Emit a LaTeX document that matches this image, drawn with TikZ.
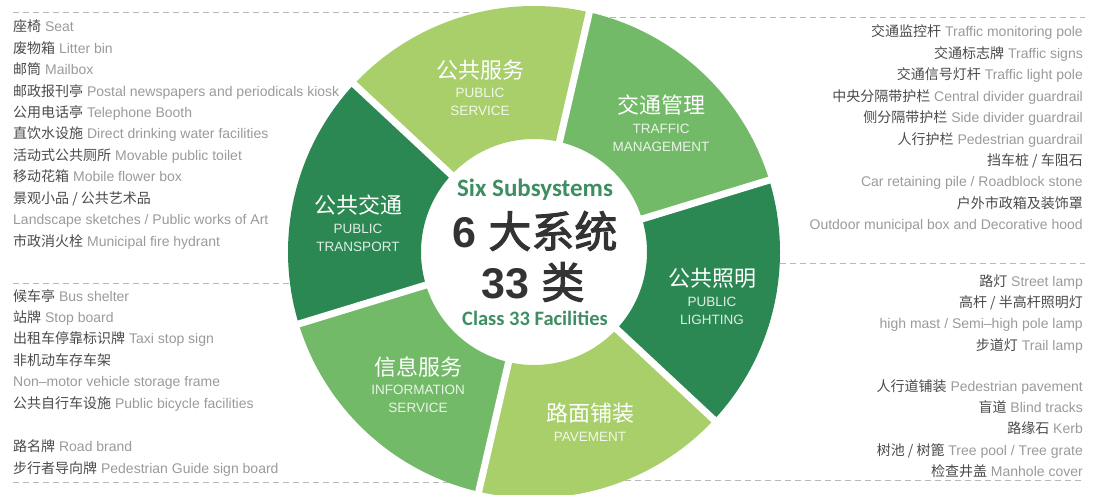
\documentclass[tikz,border=0pt]{standalone}
\usepackage{fontspec}
\setmainfont{Liberation Sans}
\newfontfamily\cjk{Noto Sans CJK SC}
\newfontfamily\cjkbold{Noto Sans CJK SC}[FakeBold=2.5]
\newfontfamily\calfont{Carlito}
\definecolor{lightg}{HTML}{A9CF6B}
\definecolor{midg}{HTML}{72BA67}
\definecolor{darkg}{HTML}{2C8852}
\definecolor{titleg}{HTML}{3E8E62}
\definecolor{numgrey}{HTML}{333333}
\definecolor{zhgrey}{HTML}{4A4A4A}
\definecolor{engrey}{HTML}{9A9A9A}
\definecolor{dashgrey}{HTML}{B8B8B8}
\newcommand\fitem[2]{{\cjk\color{zhgrey}#1} #2}
\newcommand\fzh[1]{{\cjk\color{zhgrey}#1}}
\begin{document}
\begin{tikzpicture}[x=1pt,y=-1pt,
  litem/.style={anchor=base west, inner sep=0pt, text=engrey, font=\fontsize{14}{14}\selectfont},
  ritem/.style={anchor=base east, inner sep=0pt, text=engrey, font=\fontsize{14}{14}\selectfont},
  sepline/.style={dashgrey, line width=0.8pt, dash pattern=on 6pt off 4pt},
  segzh/.style={text=white, inner sep=0pt, font=\cjk\fontsize{22}{22}\selectfont},
  segen/.style={text=white, text opacity=0.85, inner sep=0pt, align=center, font=\fontsize{13.5}{18}\selectfont}]
\useasboundingbox (0,0) rectangle (1096,495);
\clip (0,0) rectangle (1096,495);
% dashed separators
\draw[sepline] (13,12) -- (470,12);
\draw[sepline] (600,17) -- (1085,17);
\draw[sepline] (13,283) -- (300,283);
\draw[sepline] (770,263) -- (1085,263);
\draw[sepline] (13,482) -- (460,482);
\draw[sepline] (615,480) -- (1085,480);
% left top list
\node[litem] (l1) at (13,32) {\fitem{座椅}{Seat}};
\node[litem] (l2) at (13,53.4) {\fitem{废物箱}{Litter bin}};
\node[litem] (l3) at (13,74.8) {\fitem{邮筒}{Mailbox}};
\node[litem] (l4) at (13,96.2) {\fitem{邮政报刊亭}{Postal newspapers and periodicals kiosk}};
\node[litem] (l5) at (13,117.6) {\fitem{公用电话亭}{Telephone Booth}};
\node[litem] (l6) at (13,139) {\fitem{直饮水设施}{Direct drinking water facilities}};
\node[litem] (l7) at (13,160.4) {\fitem{活动式公共厕所}{Movable public toilet}};
\node[litem] (l8) at (13,181.8) {\fitem{移动花箱}{Mobile flower box}};
\node[litem] (l9) at (13,203.2) {\fzh{景观小品 / 公共艺术品}};
\node[litem] (l10) at (13,224.6) {Landscape sketches / Public works of Art};
\node[litem] (l11) at (13,246) {\fitem{市政消火栓}{Municipal fire hydrant}};
% left bottom list
\node[litem] (b1) at (13,301) {\fitem{候车亭}{Bus shelter}};
\node[litem] (b2) at (13,322.4) {\fitem{站牌}{Stop board}};
\node[litem] (b3) at (13,343.8) {\fitem{出租车停靠标识牌}{Taxi stop sign}};
\node[litem] (b4) at (13,365.2) {\fzh{非机动车存车架}};
\node[litem] (b5) at (13,386.6) {Non--motor vehicle storage frame};
\node[litem] (b6) at (13,408) {\fitem{公共自行车设施}{Public bicycle facilities}};
\node[litem] (b7) at (13,451) {\fitem{路名牌}{Road brand}};
\node[litem] (b8) at (13,473.4) {\fitem{步行者导向牌}{Pedestrian Guide sign board}};
% right top list
\node[ritem] (r1) at (1083,37) {\fitem{交通监控杆}{Traffic monitoring pole}};
\node[ritem] (r2) at (1083,58.4) {\fitem{交通标志牌}{Traffic signs}};
\node[ritem] (r3) at (1083,79.8) {\fitem{交通信号灯杆}{Traffic light pole}};
\node[ritem] (r4) at (1083,101.2) {\fitem{中央分隔带护栏}{Central divider guardrail}};
\node[ritem] (r5) at (1083,122.6) {\fitem{侧分隔带护栏}{Side divider guardrail}};
\node[ritem] (r6) at (1083,144) {\fitem{人行护栏}{Pedestrian guardrail}};
\node[ritem] (r7) at (1083,165.4) {\fzh{挡车桩 / 车阻石}};
\node[ritem] (r8) at (1083,186.8) {Car retaining pile / Roadblock stone};
\node[ritem] (r9) at (1083,208.2) {\fzh{户外市政箱及装饰罩}};
\node[ritem] (r10) at (1083,229.6) {Outdoor municipal box and Decorative hood};
% right bottom list
\node[ritem] (p1) at (1083,286) {\fitem{路灯}{Street lamp}};
\node[ritem] (p2) at (1083,307.4) {\fzh{高杆 / 半高杆照明灯}};
\node[ritem] (p3) at (1083,328.8) {high mast / Semi--high pole lamp};
\node[ritem] (p4) at (1083,350.2) {\fitem{步道灯}{Trail lamp}};
\node[ritem] (p5) at (1083,391) {\fitem{人行道铺装}{Pedestrian pavement}};
\node[ritem] (p6) at (1083,412.4) {\fitem{盲道}{Blind tracks}};
\node[ritem] (p7) at (1083,433.8) {\fitem{路缘石}{Kerb}};
\node[ritem] (p8) at (1083,455.2) {\fitem{树池 / 树篦}{Tree pool / Tree grate}};
\node[ritem] (p9) at (1083,476.6) {\fitem{检查井盖}{Manhole cover}};
% wheel
\begin{scope}[shift={(534,252)}, x=1pt, y=1pt]
  \foreach \a/\c in {17/midg, 77/lightg, 137/darkg, 197/midg, 257/lightg, 317/darkg} {
    \pgfmathsetmacro\b{\a+60}
    \fill[\c] (\a:113) arc[start angle=\a, end angle=\b, radius=113]
      -- (\b:246) arc[start angle=\b, end angle=\a, radius=246] -- cycle;
  }
  \foreach \a in {17,77,137,197,257,317} {
    \draw[white, line width=7pt] (\a:105) -- (\a:252);
  }
\end{scope}
% segment labels
\node[segzh] (ps) at (480,70) {公共服务};
\node[segen] (pse) at (480,102) {PUBLIC\\SERVICE};
\node[segzh] (tm) at (661,105) {交通管理};
\node[segen] (tme) at (661,137.5) {TRAFFIC\\MANAGEMENT};
\node[segzh] (pt) at (358,205) {公共交通};
\node[segen] (pte) at (358,237.5) {PUBLIC\\TRANSPORT};
\node[segzh] (pl) at (712,278) {公共照明};
\node[segen] (ple) at (712,311) {PUBLIC\\LIGHTING};
\node[segzh] (is) at (418,367) {信息服务};
\node[segen] (ise) at (418,399) {INFORMATION\\SERVICE};
\node[segzh] (pv) at (590,413) {路面铺装};
\node[segen] (pve) at (590,437) {PAVEMENT};
% center
\node[inner sep=0pt, text=titleg, font=\calfont\bfseries\fontsize{25}{25}\selectfont] (six) at (535,190) {Six Subsystems};
\node[inner sep=0pt, text=numgrey, font=\fontsize{43}{43}\selectfont] (big) at (535,231) {{\bfseries 6} {\cjkbold 大系统}};
\node[inner sep=0pt, text=numgrey, font=\fontsize{43}{43}\selectfont] (cls) at (533,282) {{\bfseries 33} {\cjkbold 类}};
\node[inner sep=0pt, text=titleg, font=\calfont\bfseries\fontsize{20.5}{20.5}\selectfont] (fac) at (535,318) {Class 33 Facilities};
\end{tikzpicture}
\end{document}
